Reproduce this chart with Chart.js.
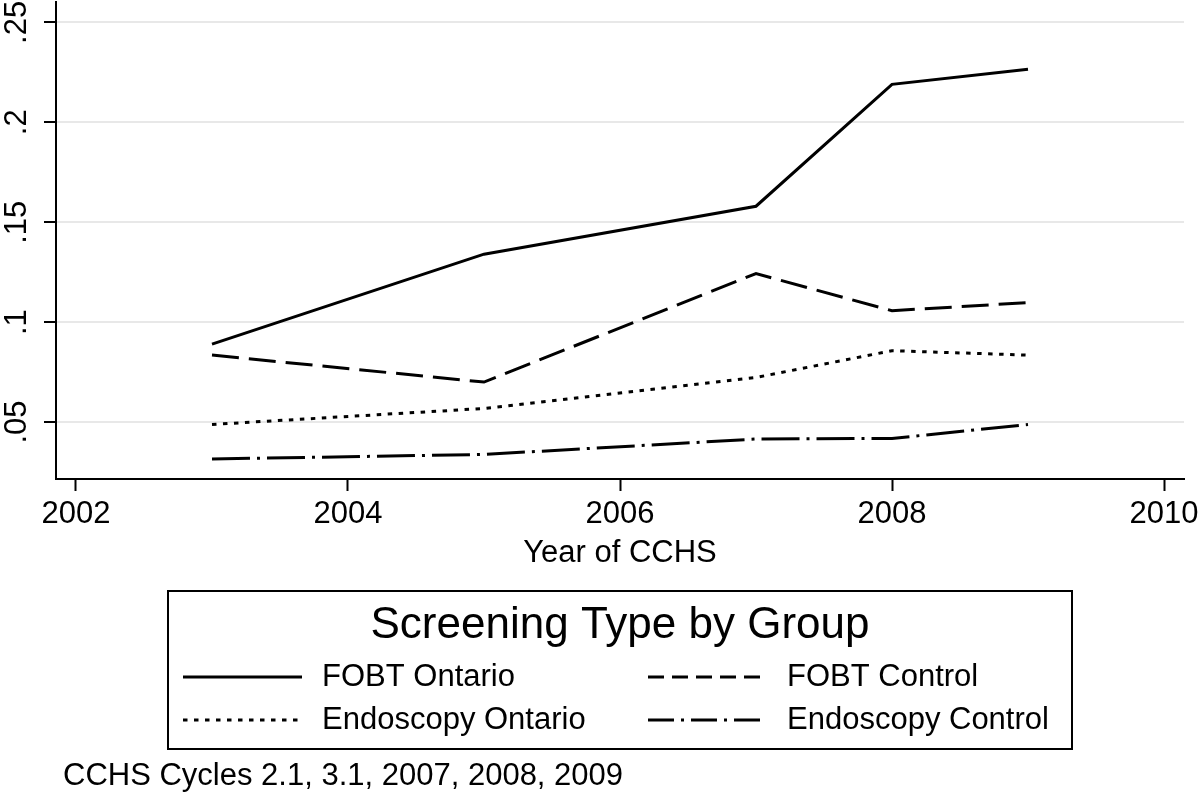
<!DOCTYPE html>
<html>
<head>
<meta charset="utf-8">
<title>Screening Type by Group</title>
<script src="https://cdn.jsdelivr.net/npm/chart.js@4"></script>
<style>
  body { margin: 0; background: #fff; }
  canvas { display: block; }
</style>
</head>
<body>
<canvas id="screeningChart" width="1200" height="795"></canvas>
<script>
// data
const years = [2003, 2005, 2007, 2008, 2009];
const fobtOntario = [0.089, 0.134, 0.158, 0.219, 0.2265];
const fobtControl = [0.0835, 0.070, 0.1243, 0.1057, 0.1098];
const endoOntario = [0.0488, 0.0568, 0.0723, 0.0857, 0.0835];
const endoControl = [0.0315, 0.0338, 0.0415, 0.0418, 0.0488];

const seriesNames = ['FOBT Ontario', 'FOBT Control', 'Endoscopy Ontario', 'Endoscopy Control'];
const xTicks = [2002, 2004, 2006, 2008, 2010];
const yTicks = [0.05, 0.1, 0.15, 0.2, 0.25];
const yTickLabels = ['.05', '.1', '.15', '.2', '.25'];

const FONT = '"Liberation Sans", Arial, Helvetica, sans-serif';
Chart.defaults.font.family = FONT;
Chart.defaults.color = '#000';

function points(values) {
    return years.map((yr, i) => ({ x: yr, y: values[i] }));
}

// line styles: plot dash, legend dash
const styles = [
    { dash: [], legendDash: [] },
    { dash: [27, 10], legendDash: [16, 8] },
    { dash: [4.5, 6.5], legendDash: [4.5, 6.5] },
    { dash: [38, 7, 3, 7], legendDash: [26, 7, 3, 7] }
];

const allValues = [fobtOntario, fobtControl, endoOntario, endoControl];

const datasets = allValues.map((vals, i) => ({
    label: seriesNames[i],
    data: points(vals),
    borderColor: '#000',
    borderWidth: 3,
    borderDash: styles[i].dash,
    pointRadius: 0,
    tension: 0,
    fill: false
}));

// keep the plot box where it is in the figure (no extra room for edge labels)
function noEdgePadding(s) {
    s.paddingTop = 0;
    s.paddingBottom = 0;
    s.paddingLeft = 0;
    s.paddingRight = 0;
}

/* legend box + caption, drawn under the plot */
const boxLegend = {
    id: 'boxLegend',
    afterDraw(chart) {
        const ctx = chart.ctx;
        ctx.save();
        ctx.strokeStyle = '#000';
        ctx.lineWidth = 2;
        ctx.strokeRect(168, 591, 904, 158);

        ctx.fillStyle = '#000';
        ctx.textBaseline = 'middle';
        ctx.textAlign = 'center';
        ctx.font = '44px ' + FONT;
        ctx.fillText('Screening Type by Group', 620, 626);

        ctx.textAlign = 'left';
        ctx.font = '31px ' + FONT;
        const cols = [183, 648];
        const rows = [677, 720];
        chart.data.datasets.forEach((ds, i) => {
            const cx = cols[i % 2];
            const cy = rows[Math.floor(i / 2)];
            ctx.beginPath();
            ctx.lineWidth = 3;
            ctx.setLineDash(styles[i].legendDash);
            ctx.moveTo(cx, cy);
            ctx.lineTo(cx + 119, cy);
            ctx.stroke();
            ctx.setLineDash([]);
            ctx.fillText(ds.label, cx + 139, cy);
        });

        ctx.fillText('CCHS Cycles 2.1, 3.1, 2007, 2008, 2009', 63, 776);
        ctx.restore();
    }
};

new Chart(document.getElementById('screeningChart'), {
    type: 'line',
    data: { datasets: datasets },
    options: {
        responsive: false,
        animation: false,
        layout: { padding: { left: 0, right: 16, top: 2, bottom: 216 } },
        plugins: {
            legend: { display: false },
            tooltip: { enabled: false }
        },
        scales: {
            x: {
                type: 'linear',
                min: 2001.853,
                max: 2010.147,
                afterBuildTicks: s => { s.ticks = xTicks.map(v => ({ value: v })); },
                afterFit: s => { s.height = 100; noEdgePadding(s); },
                ticks: {
                    font: { size: 31 },
                    padding: 5,
                    maxRotation: 0,
                    autoSkip: false,
                    callback: v => String(v)
                },
                grid: {
                    drawOnChartArea: false,
                    tickLength: 12,
                    tickColor: '#000',
                    tickWidth: 2
                },
                border: { color: '#000', width: 2 },
                title: {
                    display: true,
                    text: 'Year of CCHS',
                    font: { size: 31 },
                    padding: { top: 0, bottom: 7 }
                }
            },
            y: {
                min: 0.0215,
                max: 0.2602,
                afterBuildTicks: s => { s.ticks = yTicks.map(v => ({ value: v })); },
                afterFit: s => { s.width = 56; noEdgePadding(s); },
                ticks: {
                    font: { size: 31 },
                    padding: 5,
                    minRotation: 90,
                    maxRotation: 90,
                    crossAlign: 'center',
                    autoSkip: false,
                    callback: (v, i) => yTickLabels[i]
                },
                grid: {
                    color: '#e8e8e8',
                    lineWidth: 2,
                    tickLength: 12,
                    tickColor: '#000',
                    tickWidth: 2
                },
                border: { color: '#000', width: 2 }
            }
        }
    },
    plugins: [boxLegend]
});
</script>
</body>
</html>
